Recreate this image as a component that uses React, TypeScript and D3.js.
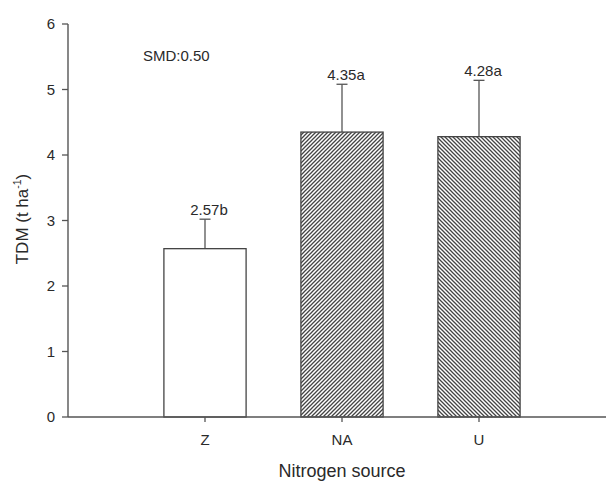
import * as d3 from 'd3';

// data
const categories = ['Z', 'NA', 'U'];
const means = [2.57, 4.35, 4.28];
const errors = [0.45, 0.73, 0.86];
const letters = ['b', 'a', 'a'];
const fills = ['none', 'hatchFwd', 'hatchBack'];
const yTicks = [0, 1, 2, 3, 4, 5, 6];

const W = 606;
const H = 481;
const FONT = '"Liberation Sans", Arial, sans-serif';
const INK = '#2a2a2a';

export default function App() {
  const y = d3.scaleLinear().domain([0, 6]).range([417, 24]);
  const x = d3
    .scaleBand<string>()
    .domain(categories)
    .range([136.5, 547.5])
    .paddingInner(0.4)
    .paddingOuter(0.2);
  const x0 = 68;
  const bw = x.bandwidth();

  return (
    <svg
      width={W}
      height={H}
      style={{ position: 'absolute', left: 0, top: 0, background: '#fff' }}
      fontFamily={FONT}
    >
      <defs>
        <pattern id="hatchFwd" width={4} height={4} patternUnits="userSpaceOnUse">
          <rect width={4} height={4} fill="#fff" />
          <path d="M-1,1 L1,-1 M0,4 L4,0 M3,5 L5,3" stroke="#444" strokeWidth={1.3} />
        </pattern>
        <pattern id="hatchBack" width={4} height={4} patternUnits="userSpaceOnUse">
          <rect width={4} height={4} fill="#fff" />
          <path d="M-1,3 L1,5 M0,0 L4,4 M3,-1 L5,1" stroke="#444" strokeWidth={1.3} />
        </pattern>
      </defs>

      {/* bars */}
      {categories.map((c, i) => {
        const cx = (x(c) ?? 0) + bw / 2;
        const top = y(means[i]);
        const errTop = y(means[i] + errors[i]);
        return (
          <g key={c}>
            <line x1={cx} x2={cx} y1={top} y2={errTop} stroke="#555" strokeWidth={1.3} />
            <line x1={cx - 5.5} x2={cx + 5.5} y1={errTop} y2={errTop} stroke="#555" strokeWidth={1.3} />
            <rect
              x={x(c)}
              y={top}
              width={bw}
              height={y(0) - top}
              fill={fills[i] === 'none' ? '#fff' : `url(#${fills[i]})`}
              stroke="#444"
              strokeWidth={1.3}
            />
            <text
              x={cx + 4}
              y={errTop - 4}
              textAnchor="middle"
              fontSize={15}
              fill={INK}
            >
              {means[i].toFixed(2) + letters[i]}
            </text>
          </g>
        );
      })}

      {/* y axis */}
      <line x1={x0} x2={x0} y1={y(6)} y2={y(0)} stroke="#555" strokeWidth={1.4} />
      {yTicks.map((t) => (
        <g key={t}>
          <line x1={x0 - 6} x2={x0} y1={y(t)} y2={y(t)} stroke="#555" strokeWidth={1.3} />
          <text x={x0 - 13} y={y(t) + 5} textAnchor="end" fontSize={15} fill={INK}>
            {t}
          </text>
        </g>
      ))}

      {/* x axis */}
      <line x1={x0} x2={W} y1={y(0)} y2={y(0)} stroke="#555" strokeWidth={1.4} />
      {categories.map((c) => {
        const cx = (x(c) ?? 0) + bw / 2;
        return (
          <g key={c}>
            <line x1={cx} x2={cx} y1={y(0)} y2={y(0) + 5} stroke="#555" strokeWidth={1.3} />
            <text x={cx} y={445} textAnchor="middle" fontSize={15} fill={INK}>
              {c}
            </text>
          </g>
        );
      })}

      <text x={342} y={477} textAnchor="middle" fontSize={18} fill={INK}>
        Nitrogen source
      </text>
      <text
        transform="translate(28,219) rotate(-90)"
        textAnchor="middle"
        fontSize={17}
        fill={INK}
      >
        TDM (t ha
        <tspan fontSize={10.5} dy={-7}>-1</tspan>
        <tspan dy={7}>)</tspan>
      </text>
      <text x={143} y={61} fontSize={15} fill={INK}>
        SMD:0.50
      </text>
    </svg>
  );
}
